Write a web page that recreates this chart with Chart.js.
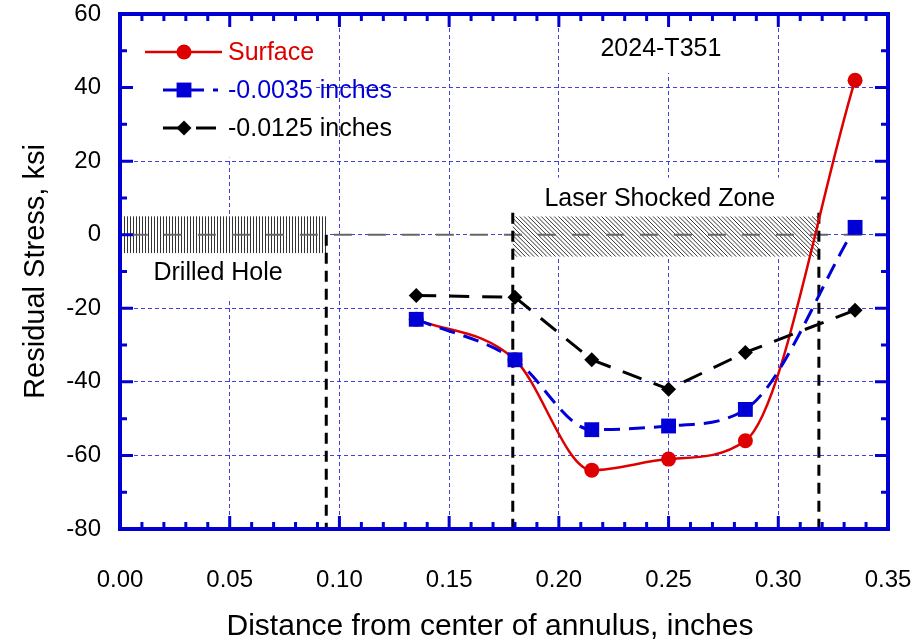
<!DOCTYPE html>
<html>
<head>
<meta charset="utf-8">
<title>Residual Stress 2024-T351</title>
<script src="https://cdn.jsdelivr.net/npm/chart.js@4.4.1/dist/chart.umd.min.js"></script>
<style>
  html, body { margin: 0; padding: 0; background: #fff; }
  #wrap { width: 911px; height: 643px; }
</style>
</head>
<body>
<div id="wrap"><canvas id="stress-chart" width="911" height="643"></canvas></div>
<script>
// measured points
const distance = [0.135, 0.18, 0.215, 0.25, 0.285, 0.335];
const surface = [-23, -34, -64, -61, -56, 42];
const depth0035 = [-23, -34, -53, -52, -47.5, 2];
const depth0125 = [-16.5, -17, -34, -42, -32, -20.5];
const seriesLabels = ['Surface', '-0.0035 inches', '-0.0125 inches'];

const xTicks = [0, 0.05, 0.1, 0.15, 0.2, 0.25, 0.3, 0.35];
const yTicks = [-80, -60, -40, -20, 0, 20, 40, 60];

// zones marked on the plot (inches / ksi)
const drilledHole = { from: 0.002, to: 0.094, low: -5, high: 5 };
const laserZone = { from: 0.179, to: 0.3185, low: -6, high: 5 };

const RED = 'rgb(222,0,0)';
const BLUE = 'rgb(0,0,214)';
const AXIS_BLUE = 'rgb(0,0,210)';
const GRID = 'rgba(30,30,225,0.85)';
const FONT = "'Liberation Sans', Arial, sans-serif";

Chart.defaults.font.family = FONT;
Chart.defaults.color = '#000';

function toPoints(xs, ys) {
    return xs.map((x, i) => ({ x: x, y: ys[i] }));
}

function marker(ctx, style, x, y, r, color) {
    ctx.fillStyle = color;
    ctx.beginPath();
    if (style === 'circle') {
        ctx.arc(x, y, r, 0, Math.PI * 2);
    } else if (style === 'rect') {
        const s = r * Math.SQRT1_2;
        ctx.rect(x - s, y - s, 2 * s, 2 * s);
    } else {
        ctx.moveTo(x - r, y);
        ctx.lineTo(x, y - r);
        ctx.lineTo(x + r, y);
        ctx.lineTo(x, y + r);
        ctx.closePath();
    }
    ctx.fill();
}

// white boxes, hatching, zone lines and notes (under the data)
const decorPlugin = {
    id: 'decor',
    beforeDatasetsDraw(chart) {
        const { ctx, chartArea: a, scales: { x, y } } = chart;
        const px = v => x.getPixelForValue(v);
        const py = v => y.getPixelForValue(v);
        ctx.save();

        ctx.fillStyle = '#fff';
        // legend area
        ctx.fillRect(a.left + 2, a.top + 2, px(0.0885) - a.left, py(21.5) - a.top);
        // alloy note
        ctx.fillRect(px(0.217), a.top + 2, px(0.284) - px(0.217), py(44.5) - a.top);
        // laser zone note + hatch
        ctx.fillRect(px(0.182), py(15.5), px(0.31) - px(0.182), py(5) - py(15.5));
        ctx.fillRect(px(laserZone.from), py(laserZone.high), px(laserZone.to) - px(laserZone.from), py(laserZone.low) - py(laserZone.high));
        // drilled hole note + hatch
        ctx.fillRect(a.left + 2, py(drilledHole.high), px(drilledHole.to) - a.left, py(-17.3) - py(drilledHole.high));

        // drilled hole hatch: vertical lines
        let x0 = px(drilledHole.from), x1 = px(drilledHole.to);
        let y0 = py(drilledHole.high), y1 = py(drilledHole.low);
        ctx.strokeStyle = '#333';
        ctx.lineWidth = 1;
        ctx.beginPath();
        for (let xx = x0; xx <= x1; xx += 3) {
            ctx.moveTo(Math.round(xx) + 0.5, y0);
            ctx.lineTo(Math.round(xx) + 0.5, y1);
        }
        ctx.stroke();

        // laser zone hatch: diagonal lines
        x0 = px(laserZone.from); x1 = px(laserZone.to);
        y0 = py(laserZone.high); y1 = py(laserZone.low);
        ctx.save();
        ctx.beginPath();
        ctx.rect(x0, y0, x1 - x0, y1 - y0);
        ctx.clip();
        ctx.strokeStyle = '#333';
        ctx.lineWidth = 1;
        ctx.beginPath();
        const h = y1 - y0;
        for (let xx = x0 - h; xx <= x1; xx += 4.3) {
            ctx.moveTo(xx, y0);
            ctx.lineTo(xx + h, y1);
        }
        ctx.stroke();
        ctx.restore();

        // zero reference line
        ctx.strokeStyle = '#666';
        ctx.lineWidth = 2;
        ctx.setLineDash([18, 16]);
        ctx.beginPath();
        ctx.moveTo(px(0.0045), py(0));
        ctx.lineTo(px(0.345), py(0));
        ctx.stroke();

        // zone boundaries
        ctx.strokeStyle = '#000';
        ctx.lineWidth = 3;
        ctx.setLineDash([11, 7]);
        ctx.beginPath();
        ctx.moveTo(px(drilledHole.to), py(0));
        ctx.lineTo(px(drilledHole.to), a.bottom);
        ctx.moveTo(px(laserZone.from), py(6));
        ctx.lineTo(px(laserZone.from), a.bottom);
        ctx.moveTo(px(laserZone.to), py(6));
        ctx.lineTo(px(laserZone.to), a.bottom);
        ctx.stroke();
        ctx.setLineDash([]);

        // notes
        ctx.fillStyle = '#000';
        ctx.font = '25px ' + FONT;
        ctx.textAlign = 'center';
        ctx.textBaseline = 'middle';
        ctx.fillText('2024-T351', px(0.2465), py(50.5));
        ctx.fillText('Laser Shocked Zone', px(0.246), py(9.6));
        ctx.fillText('Drilled Hole', px(0.0447), py(-10.4));

        ctx.restore();
    },
    afterDatasetsDraw(chart) {
        const { ctx, chartArea: a } = chart;
        ctx.save();
        // legend inside the plot
        const rows = [38, 76, 114];
        const lineFrom = [25, 43, 43];
        const lineTo = [102, 98, 98];
        chart.data.datasets.forEach((ds, i) => {
            const cy = a.top + rows[i];
            ctx.strokeStyle = ds.borderColor;
            ctx.lineWidth = ds.borderWidth;
            ctx.setLineDash(ds.borderDash || []);
            ctx.beginPath();
            ctx.moveTo(a.left + lineFrom[i], cy);
            ctx.lineTo(a.left + lineTo[i], cy);
            ctx.stroke();
            ctx.setLineDash([]);
            marker(ctx, ds.pointStyle, a.left + 64, cy, ds.pointRadius, ds.borderColor);
            ctx.fillStyle = ds.borderColor;
            ctx.font = '25px ' + FONT;
            ctx.textAlign = 'left';
            ctx.textBaseline = 'middle';
            ctx.fillText(ds.label, a.left + 108, cy + 1);
        });
        ctx.restore();
    },
    afterDraw(chart) {
        const { ctx, chartArea: a, scales: { x, y } } = chart;
        ctx.save();
        ctx.strokeStyle = AXIS_BLUE;
        ctx.lineWidth = 3;
        ctx.beginPath();
        // inward ticks on all four sides, 4 minor per x step, 1 minor per y step
        for (let i = 0; i < xTicks.length; i++) {
            const v = xTicks[i];
            const steps = i < xTicks.length - 1 ? 5 : 1;
            for (let k = 0; k < steps; k++) {
                const step = (xTicks[1] - xTicks[0]) / 5;
                const xx = x.getPixelForValue(v + k * step);
                const len = k === 0 ? 13 : 7;
                ctx.moveTo(xx, a.bottom); ctx.lineTo(xx, a.bottom - len);
                ctx.moveTo(xx, a.top); ctx.lineTo(xx, a.top + len);
            }
        }
        for (let i = 0; i < yTicks.length; i++) {
            const v = yTicks[i];
            const steps = i < yTicks.length - 1 ? 2 : 1;
            for (let k = 0; k < steps; k++) {
                const step = (yTicks[1] - yTicks[0]) / 2;
                const yy = y.getPixelForValue(v + k * step);
                const len = k === 0 ? 13 : 7;
                ctx.moveTo(a.left, yy); ctx.lineTo(a.left + len, yy);
                ctx.moveTo(a.right, yy); ctx.lineTo(a.right - len, yy);
            }
        }
        ctx.stroke();
        ctx.lineWidth = 4;
        ctx.strokeRect(a.left, a.top, a.right - a.left, a.bottom - a.top);

        // x axis title, sits a little left of the plot centre in the original
        ctx.fillStyle = '#000';
        ctx.font = '30px ' + FONT;
        ctx.textAlign = 'center';
        ctx.textBaseline = 'middle';
        ctx.fillText('Distance from center of annulus, inches', (a.left + a.right) / 2 - 14, 627);
        ctx.restore();
    }
};

const ctx = document.getElementById('stress-chart').getContext('2d');

const stressChart = new Chart(ctx, {
    type: 'scatter',
    data: {
        datasets: [
            {
                label: seriesLabels[0],
                data: toPoints(distance, surface),
                showLine: true,
                borderColor: RED,
                backgroundColor: RED,
                borderWidth: 2.5,
                pointStyle: 'circle',
                pointRadius: 7.5,
                pointBorderWidth: 0,
                cubicInterpolationMode: 'monotone',
                order: 3
            },
            {
                label: seriesLabels[1],
                data: toPoints(distance, depth0035),
                showLine: true,
                borderColor: BLUE,
                backgroundColor: BLUE,
                borderWidth: 3,
                borderDash: [16, 9],
                pointStyle: 'rect',
                pointRadius: 10.5,
                pointBorderWidth: 0,
                cubicInterpolationMode: 'monotone',
                order: 1
            },
            {
                label: seriesLabels[2],
                data: toPoints(distance, depth0125),
                showLine: true,
                borderColor: '#000',
                backgroundColor: '#000',
                borderWidth: 3,
                borderDash: [20, 13],
                pointStyle: 'rectRot',
                pointRadius: 7.5,
                pointBorderWidth: 0,
                tension: 0,
                order: 2
            }
        ]
    },
    options: {
        responsive: false,
        animation: false,
        layout: { padding: { top: 14, right: 23, left: 0, bottom: 0 } },
        plugins: {
            legend: { display: false },
            tooltip: { enabled: false }
        },
        scales: {
            x: {
                type: 'linear',
                min: 0,
                max: 0.35,
                afterBuildTicks: s => { s.ticks = xTicks.map(v => ({ value: v })); },
                afterFit: s => {
                    s.height = 114;
                    s.paddingLeft = 0; s.paddingRight = 0;
                    s.paddingTop = 0; s.paddingBottom = 0;
                },
                ticks: {
                    font: { size: 24 },
                    color: '#000',
                    padding: 37,
                    maxRotation: 0,
                    callback: v => v.toFixed(2)
                },
                grid: { color: GRID, lineWidth: 1, drawTicks: false },
                border: { display: false, dash: [4, 3] },
                title: { display: false }
            },
            y: {
                type: 'linear',
                min: -80,
                max: 60,
                afterBuildTicks: s => { s.ticks = yTicks.map(v => ({ value: v })); },
                afterFit: s => {
                    s.width = 120;
                    s.paddingLeft = 0; s.paddingRight = 0;
                    s.paddingTop = 0; s.paddingBottom = 0;
                },
                ticks: {
                    font: { size: 24 },
                    color: '#000',
                    padding: 19
                },
                grid: { color: GRID, lineWidth: 1, drawTicks: false },
                border: { display: false, dash: [4, 3] },
                title: {
                    display: true,
                    text: 'Residual Stress, ksi',
                    font: { size: 29 },
                    color: '#000',
                    padding: { top: 19, bottom: 19 }
                }
            }
        }
    },
    plugins: [decorPlugin]
});
</script>
</body>
</html>
